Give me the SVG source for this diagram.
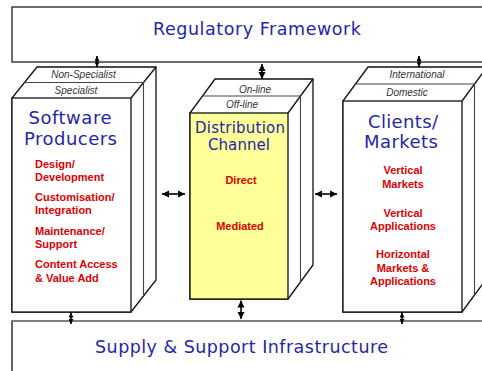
<svg xmlns="http://www.w3.org/2000/svg" width="482" height="371" viewBox="0 0 482 371">
<style>
.box{fill:#fff;stroke:#111;stroke-width:1.3}
.ln{fill:none;stroke:#111;stroke-width:1.3}
.mid{fill:none;stroke:#444;stroke-width:1.1}
.title{font-family:"DejaVu Sans",Verdana,sans-serif;fill:#2626A6;text-anchor:middle}
.layer{font-family:"Liberation Sans",Arial,sans-serif;font-style:italic;font-size:10px;fill:#333;text-anchor:middle}
.item{font-family:"Liberation Sans",Arial,sans-serif;font-weight:bold;font-size:11px;fill:#DD0000}
.c{text-anchor:middle}
.conn{stroke:#000;stroke-width:1.6;fill:none}
</style>
<defs>
<marker id="hs" viewBox="0 0 10 10" refX="10" refY="5" markerUnits="userSpaceOnUse" markerWidth="5.5" markerHeight="5" orient="auto-start-reverse">
<path d="M0,0 L10,5 L0,10 Z" fill="#000"/>
</marker>
<marker id="hl" viewBox="0 0 10 10" refX="10" refY="5" markerUnits="userSpaceOnUse" markerWidth="7" markerHeight="8" orient="auto-start-reverse">
<path d="M0,0 L10,5 L0,10 Z" fill="#000"/>
</marker>
</defs>

<g id="regulatory">
<rect x="12" y="7" width="480" height="55" fill="#fff" stroke="#222" stroke-width="1.3"/>
<text class="title" x="257" y="35" font-size="17.5" textLength="208" lengthAdjust="spacing">Regulatory Framework</text>
</g>

<g id="supply">
<rect x="12" y="321" width="480" height="60" fill="#fff" stroke="#111" stroke-width="1.3"/>
<line x1="12" y1="321" x2="482" y2="321" stroke="#808080" stroke-width="2"/>
<text class="title" x="241.5" y="353" font-size="17.5" textLength="293" lengthAdjust="spacing">Supply &amp; Support Infrastructure</text>
</g>

<g id="producers">
<path class="box" d="M12,312 L12,98 L37,67 L156,67 L156,280 L131,312 Z"/>
<rect class="box" x="12" y="98" width="119" height="214"/>
<path class="ln" d="M131,98 L156,67"/>
<path class="mid" d="M24.5,82.5 L143.5,82.5 L143.5,296"/>
<text class="layer" x="83.5" y="77.5">Non-Specialist</text>
<text class="layer" x="76" y="93.5">Specialist</text>
<text class="title" x="70" y="124" font-size="18" textLength="83" lengthAdjust="spacing">Software</text>
<text class="title" x="70.5" y="145" font-size="18" textLength="93" lengthAdjust="spacing">Producers</text>
<text class="item" x="35" y="168">Design/</text>
<text class="item" x="35" y="181">Development</text>
<text class="item" x="35" y="201">Customisation/</text>
<text class="item" x="35" y="214">Integration</text>
<text class="item" x="35" y="235">Maintenance/</text>
<text class="item" x="35" y="248">Support</text>
<text class="item" x="35" y="268">Content Access</text>
<text class="item" x="35" y="282">&amp; Value Add</text>
</g>

<g id="distribution">
<path class="box" d="M190,299 L190,113 L215,79 L313,79 L313,265 L288,299 Z"/>
<rect x="190" y="113" width="98" height="186" fill="#FFFF99" stroke="#111" stroke-width="1.3"/>
<path class="ln" d="M288,113 L313,79"/>
<path class="mid" d="M202.5,96 L300.5,96 L300.5,282"/>
<text class="layer" x="255" y="92.5">On-line</text>
<text class="layer" x="242" y="108">Off-line</text>
<text class="title" x="240" y="133" font-size="15" textLength="90" lengthAdjust="spacing">Distribution</text>
<text class="title" x="239" y="150" font-size="15" textLength="62" lengthAdjust="spacing">Channel</text>
<text class="item c" x="241" y="184">Direct</text>
<text class="item c" x="240" y="230">Mediated</text>
</g>

<g id="clients">
<path class="box" d="M343,312 L343,101 L368,67 L487,67 L487,278 L462,312 Z"/>
<rect class="box" x="343" y="101" width="119" height="211"/>
<path class="ln" d="M462,101 L487,67"/>
<path class="mid" d="M355.5,84 L474.5,84 L474.5,295"/>
<text class="layer" x="417" y="78">International</text>
<text class="layer" x="407" y="96">Domestic</text>
<text class="title" x="403" y="128" font-size="18" textLength="70" lengthAdjust="spacing">Clients/</text>
<text class="title" x="401" y="148" font-size="18" textLength="74" lengthAdjust="spacing">Markets</text>
<text class="item c" x="403" y="174">Vertical</text>
<text class="item c" x="403" y="188">Markets</text>
<text class="item c" x="403" y="217">Vertical</text>
<text class="item c" x="403" y="230">Applications</text>
<text class="item c" x="403" y="258">Horizontal</text>
<text class="item c" x="403" y="272">Markets &amp;</text>
<text class="item c" x="403" y="285">Applications</text>
</g>

<g id="connectors">
<line class="conn" x1="97" y1="56" x2="97" y2="67" marker-start="url(#hs)" marker-end="url(#hs)"/>
<line class="conn" x1="262" y1="64" x2="262" y2="79" marker-start="url(#hl)" marker-end="url(#hl)"/>
<line class="conn" x1="419" y1="56" x2="419" y2="67" marker-start="url(#hs)" marker-end="url(#hs)"/>
<line class="conn" x1="71" y1="312.5" x2="71" y2="324" marker-start="url(#hs)" marker-end="url(#hs)"/>
<line class="conn" x1="241" y1="300.5" x2="241" y2="319" marker-start="url(#hl)" marker-end="url(#hl)"/>
<line class="conn" x1="402" y1="312.5" x2="402" y2="324" marker-start="url(#hs)" marker-end="url(#hs)"/>
<line class="conn" x1="162" y1="194" x2="185" y2="194" stroke-width="2.2" marker-start="url(#hl)" marker-end="url(#hl)"/>
<line class="conn" x1="315" y1="194" x2="337" y2="194" stroke-width="2.2" marker-start="url(#hl)" marker-end="url(#hl)"/>
</g>
</svg>
